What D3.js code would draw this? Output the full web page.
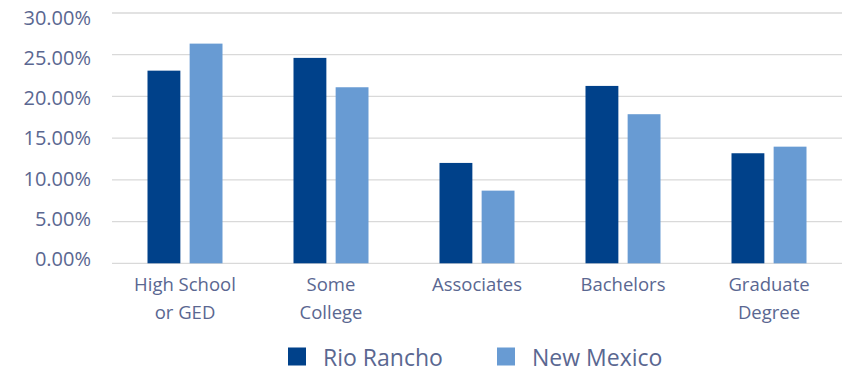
<!DOCTYPE html>
<html>
<head>
<meta charset="utf-8">
<script src="https://cdn.jsdelivr.net/npm/d3@7"></script>
<style>
  body { margin: 0; background: #fff; }
  text { font-family: "Open Sans", sans-serif; fill: #5a6791; }
</style>
</head>
<body>
<script>
// chart data
const categories = [["High School", "or GED"], ["Some", "College"], ["Associates"], ["Bachelors"], ["Graduate", "Degree"]];
const seriesNames = ["Rio Rancho", "New Mexico"];
const rioRancho = [23.09, 24.62, 12.03, 21.26, 13.19];
const newMexico = [26.33, 21.10, 8.71, 17.87, 13.98];
const yTicks = [0, 5, 10, 15, 20, 25, 30];
const colors = ["#00418a", "#689bd3"];

function drawChart() {
  const width = 850, height = 372;
  const svg = d3.select("body").append("svg")
    .attr("width", width)
    .attr("height", height);

  const keys = categories.map(c => c.join(" "));
  const values = [rioRancho, newMexico];

  const x = d3.scaleBand().domain(keys).range([112, 842]).paddingInner(0).paddingOuter(0);
  const xInner = d3.scaleBand().domain(seriesNames).range([0, 75]).paddingInner(0.22);
  const groupOffset = (x.bandwidth() - 75) / 2;

  const y = d3.scaleLinear().domain([0, 30]).range([263.3, 13]);
  // excel draws the tick labels slightly tighter than the gridlines
  const yLabel = d3.scaleLinear().domain([0, 30]).range([259, 17.5]);

  // gridlines
  svg.append("g").selectAll("line")
    .data(yTicks)
    .enter().append("line")
    .attr("x1", 112).attr("x2", 842)
    .attr("y1", d => y(d)).attr("y2", d => y(d))
    .attr("stroke", "#d9d9d9")
    .attr("stroke-width", 1.3);

  // y labels
  svg.append("g").selectAll("text")
    .data(yTicks)
    .enter().append("text")
    .attr("x", 91)
    .attr("y", d => yLabel(d))
    .attr("dy", "0.36em")
    .attr("text-anchor", "end")
    .style("font-size", "20px")
    .text(d => d.toFixed(2) + "%");

  // bars
  seriesNames.forEach((s, si) => {
    svg.append("g").selectAll("rect")
      .data(values[si])
      .enter().append("rect")
      .attr("x", (d, i) => x(keys[i]) + groupOffset + xInner(s))
      .attr("y", d => y(d))
      .attr("width", xInner.bandwidth())
      .attr("height", d => y(0) - y(d))
      .attr("fill", colors[si]);
  });

  // x labels
  const xl = svg.append("g").selectAll("text")
    .data(categories)
    .enter().append("text")
    .attr("x", (d, i) => x(keys[i]) + x.bandwidth() / 2)
    .attr("y", 291)
    .attr("text-anchor", "middle")
    .style("font-size", "18.5px");
  xl.selectAll("tspan")
    .data((d, i) => d.map(line => ({ line, cx: x(keys[i]) + x.bandwidth() / 2 })))
    .enter().append("tspan")
    .attr("x", d => d.cx)
    .attr("dy", (d, i) => i === 0 ? 0 : 28)
    .text(d => d.line);

  // legend
  const legendX = [288, 497];
  const leg = svg.append("g").selectAll("g")
    .data(seriesNames)
    .enter().append("g")
    .attr("transform", (d, i) => "translate(" + legendX[i] + ",347.5)");
  leg.append("rect")
    .attr("width", 18).attr("height", 18)
    .attr("fill", (d, i) => colors[i]);
  leg.append("text")
    .attr("x", 35)
    .attr("y", 18)
    .style("font-size", "23px")
    .text(d => d);
}

drawChart();
</script>
</body>
</html>
